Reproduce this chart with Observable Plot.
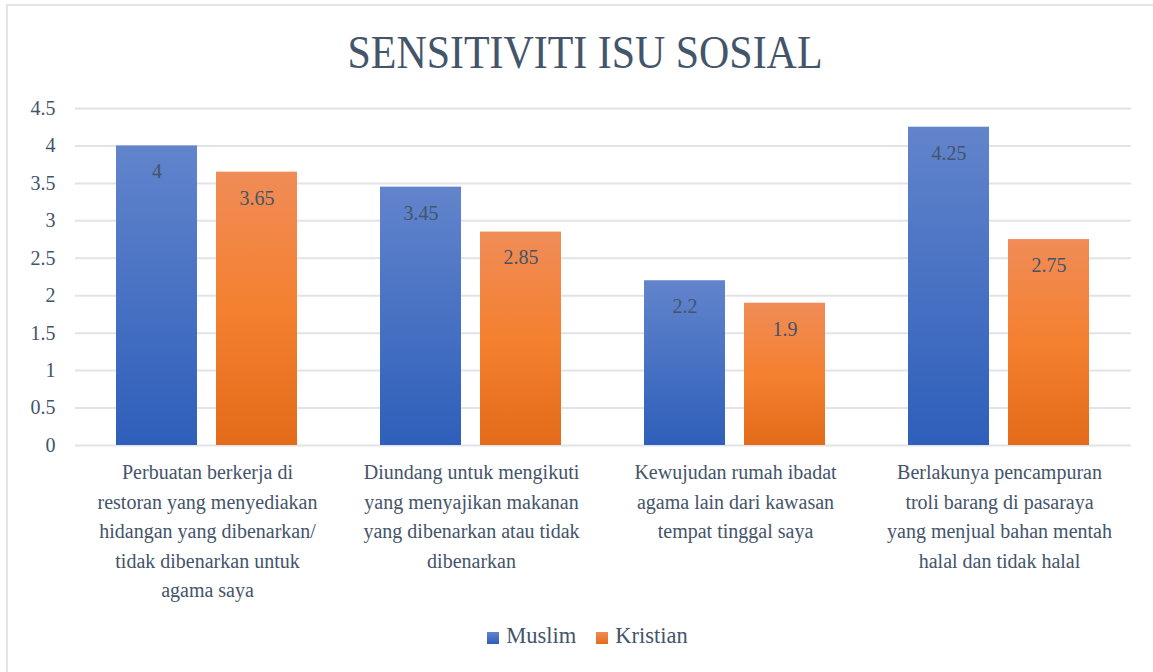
<!DOCTYPE html>
<html>
<head>
<meta charset="utf-8">
<script src="https://cdn.jsdelivr.net/npm/d3@7"></script>
<script src="https://cdn.jsdelivr.net/npm/@observablehq/plot@0.6"></script>
<style>
  html, body { margin: 0; padding: 0; background: #fff; }
  body { width: 1153px; height: 672px; position: relative; overflow: hidden; font-family: 'Liberation Serif', 'DejaVu Serif', 'Times New Roman', Times, serif; }
  #frame { position: absolute; left: 6px; top: 4px; width: 1200px; height: 720px; border: 2px solid #E2E4E8; box-sizing: border-box; }
  #chart { position: absolute; left: 0; top: 0; }
  #title { position: absolute; left: 0; top: 0; }
  #legend { position: absolute; top: 623px; left: 0; width: 1153px; display: flex; justify-content: center; font-size: 22.5px; color: #44546A; padding-left: 22px; box-sizing: border-box; }
  .item { display: flex; align-items: center; margin: 0 10px; }
  .sw { width: 12px; height: 12px; margin-right: 7px; margin-top: 3px; }
  svg text { font-family: 'Liberation Serif', 'DejaVu Serif', 'Times New Roman', Times, serif; }
</style>
</head>
<body>
<div id="frame"></div>
<svg id="title" width="1153" height="100">
  <text x="585" y="68" text-anchor="middle" font-size="46" fill="#44546A" textLength="475" lengthAdjust="spacingAndGlyphs">SENSITIVITI ISU SOSIAL</text>
</svg>
<div id="chart"></div>
<div id="legend"></div>
<script>
const categories = [
  "Perbuatan berkerja di\nrestoran yang menyediakan\nhidangan yang dibenarkan/\ntidak dibenarkan untuk\nagama saya",
  "Diundang untuk mengikuti\nyang menyajikan makanan\nyang dibenarkan atau tidak\ndibenarkan",
  "Kewujudan rumah ibadat\nagama lain dari kawasan\ntempat tinggal saya",
  "Berlakunya pencampuran\ntroli barang di pasaraya\nyang menjual bahan mentah\nhalal dan tidak halal"
];
const series = ["Muslim", "Kristian"];
const muslimValues = [4, 3.45, 2.2, 4.25];
const kristianValues = [3.65, 2.85, 1.9, 2.75];
const yTicks = [0, 0.5, 1, 1.5, 2, 2.5, 3, 3.5, 4, 4.5];

const rows = [];
categories.forEach((c, i) => {
  rows.push({category: c, series: "Muslim", value: muslimValues[i]});
  rows.push({category: c, series: "Kristian", value: kristianValues[i]});
});

const textColor = "#44546A";
const fontStack = "'Liberation Serif', 'DejaVu Serif', 'Times New Roman', Times, serif";

const chart = Plot.plot({
  width: 1153,
  height: 672,
  marginLeft: 75,
  marginRight: 22,
  marginTop: 108,
  marginBottom: 227,
  style: {fontFamily: fontStack, fontSize: "20px", color: textColor, background: "transparent"},
  fx: {domain: categories, paddingInner: 0, paddingOuter: 0, axis: null, label: null},
  x: {domain: series, paddingInner: 0.188, paddingOuter: 0.401, axis: null, label: null},
  y: {domain: [0, 4.5], ticks: yTicks, label: null},
  marks: [
    Plot.gridY(yTicks, {stroke: "#E1E3E7", strokeOpacity: 1, strokeWidth: 2}),
    Plot.axisY(yTicks, {tickSize: 0, tickPadding: 20, tickFormat: d => String(d), fill: textColor, fontSize: 20, label: null}),
    Plot.barY(rows.filter(d => d.series === "Muslim"), {fx: "category", x: "series", y: "value", fill: "url(#gradMuslim)"}),
    Plot.barY(rows.filter(d => d.series === "Kristian"), {fx: "category", x: "series", y: "value", fill: "url(#gradKristian)"}),
    Plot.text(rows, {fx: "category", x: "series", y: "value", text: d => String(d.value), dy: 26, fill: textColor, fontSize: 20, lineAnchor: "middle"}),
    Plot.text(categories, {fx: d => d, text: d => d, frameAnchor: "bottom", lineAnchor: "top", dy: 13, lineHeight: 1.47, fill: textColor, fontSize: 20})
  ]
});

const defs = d3.select(chart).insert("defs", ":first-child");
const gm = defs.append("linearGradient").attr("id", "gradMuslim").attr("x1", 0).attr("y1", 0).attr("x2", 0).attr("y2", 1);
gm.append("stop").attr("offset", "0%").attr("stop-color", "#6284CC");
gm.append("stop").attr("offset", "100%").attr("stop-color", "#2E5FBA");
const gk = defs.append("linearGradient").attr("id", "gradKristian").attr("x1", 0).attr("y1", 0).attr("x2", 0).attr("y2", 1);
gk.append("stop").attr("offset", "0%").attr("stop-color", "#F08C57");
gk.append("stop").attr("offset", "50%").attr("stop-color", "#F48030");
gk.append("stop").attr("offset", "100%").attr("stop-color", "#E36B19");

document.getElementById("chart").appendChild(chart);

const legend = document.getElementById("legend");
const swatchFills = {Muslim: "linear-gradient(#6284CC, #2E5FBA)", Kristian: "linear-gradient(#F08C57, #E36B19)"};
series.forEach(s => {
  const item = document.createElement("div");
  item.className = "item";
  const sw = document.createElement("div");
  sw.className = "sw";
  sw.style.background = swatchFills[s];
  const label = document.createElement("span");
  label.textContent = s;
  item.appendChild(sw);
  item.appendChild(label);
  legend.appendChild(item);
});
</script>
</body>
</html>
